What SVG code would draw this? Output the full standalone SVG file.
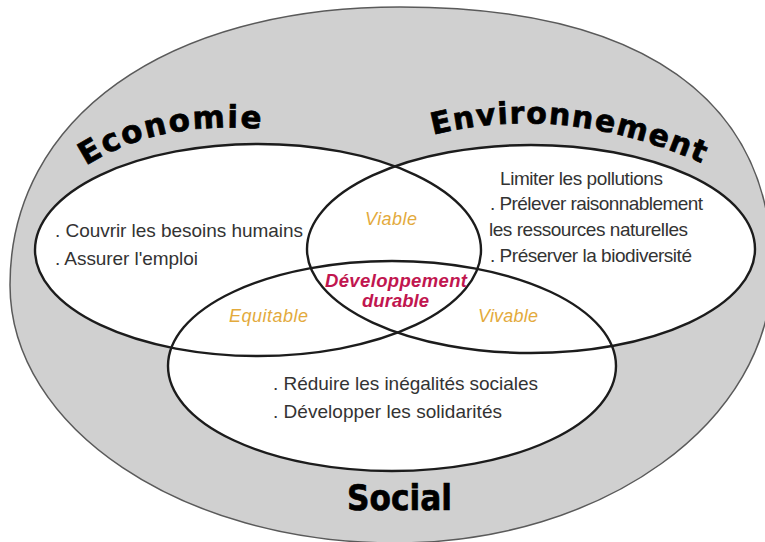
<svg xmlns="http://www.w3.org/2000/svg" width="765" height="542" viewBox="0 0 765 542">
<style>
.fill{fill:#ffffff;stroke:none}
.ring{fill:none;stroke:#1c1c1c;stroke-width:2.4}
.head{font-family:"DejaVu Sans",sans-serif;font-weight:bold;fill:#000;stroke:#000;stroke-width:0.7}
.body{font-family:"Liberation Sans",Arial,sans-serif;font-size:19px;fill:#333}
.gold{font-family:"Liberation Sans",Arial,sans-serif;font-style:italic;font-size:18px;fill:#e3aa3c}
.core{font-family:"Liberation Sans",Arial,sans-serif;font-style:italic;font-weight:bold;font-size:18.5px;fill:#c1164f}
</style>
<defs>
<path id="pEco" d="M 86,166 Q 160,118 272,130"/>
<path id="pEnv" d="M 433,135 Q 565,101 708,166"/>
</defs>
<rect width="765" height="542" fill="#ffffff"/>
<g id="outer">
<path d="M 400,7 C 642,7 772,99 772,270 C 772,422 603,543 395,543 C 182,543 10,428 10,285 C 10,118 166,7 400,7 Z" fill="#d0d0d0" stroke="#5a5a5a" stroke-width="1.5"/>
</g>
<g id="fills">
<ellipse class="fill" cx="258" cy="250" rx="223" ry="106"/>
<ellipse class="fill" cx="531" cy="249" rx="224" ry="104"/>
<ellipse class="fill" cx="392" cy="366" rx="224" ry="105"/>
</g>
<g id="connectors"/>
<g id="economie">
<ellipse class="ring" cx="258" cy="250" rx="223" ry="106"/>
<text class="head" font-size="31" letter-spacing="2"><textPath href="#pEco">Economie</textPath></text>
<text class="body" x="55" y="237" textLength="248">. Couvrir les besoins humains</text>
<text class="body" x="55" y="265" textLength="143">. Assurer l'emploi</text>
</g>
<g id="environnement">
<ellipse class="ring" cx="531" cy="249" rx="224" ry="104"/>
<text class="head" font-size="30" letter-spacing="1.5"><textPath href="#pEnv">Environnement</textPath></text>
<text class="body" x="500" y="185" textLength="163">Limiter les pollutions</text>
<text class="body" x="490" y="210" textLength="213">. Prélever raisonnablement</text>
<text class="body" x="489" y="236" textLength="199">les ressources naturelles</text>
<text class="body" x="490" y="262" textLength="202">. Préserver la biodiversité</text>
</g>
<g id="social">
<ellipse class="ring" cx="392" cy="366" rx="224" ry="105"/>
<text class="head" x="347" y="510" font-size="36" textLength="105" lengthAdjust="spacingAndGlyphs">Social</text>
<text class="body" x="273" y="390" textLength="265">. Réduire les inégalités sociales</text>
<text class="body" x="273" y="418" textLength="229">. Développer les solidarités</text>
</g>
<g id="viable">
<text class="gold" x="365" y="225" textLength="52">Viable</text>
</g>
<g id="equitable">
<text class="gold" x="229" y="322" textLength="79">Equitable</text>
</g>
<g id="vivable">
<text class="gold" x="478" y="322" textLength="60">Vivable</text>
</g>
<g id="developpement-durable">
<text class="core" x="325" y="287" textLength="142">Développement</text>
<text class="core" x="362" y="307" textLength="67">durable</text>
</g>
</svg>
